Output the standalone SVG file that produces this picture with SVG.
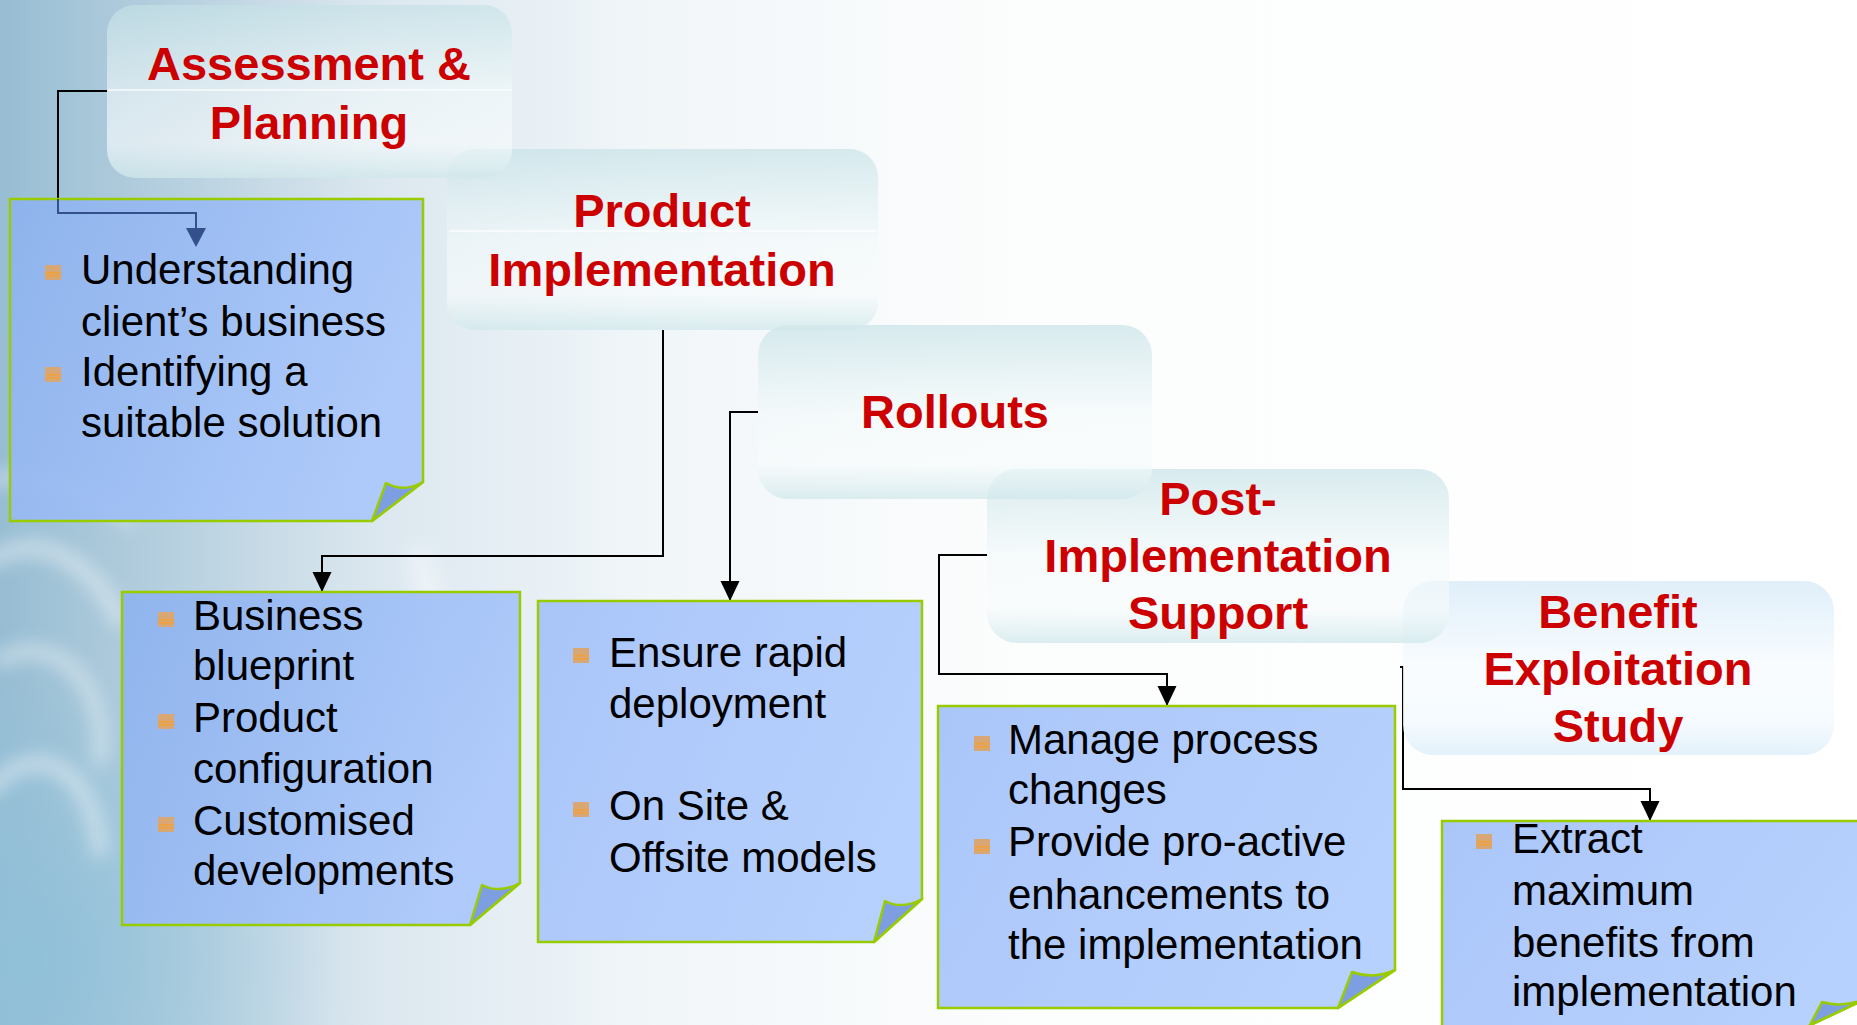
<svg xmlns="http://www.w3.org/2000/svg" width="1857" height="1025" viewBox="0 0 1857 1025">
<defs>
  <linearGradient id="bgH" x1="0" y1="0" x2="1857" y2="0" gradientUnits="userSpaceOnUse">
    <stop offset="0" stop-color="#97bdd3"/>
    <stop offset="0.08" stop-color="#b2cddd"/>
    <stop offset="0.2" stop-color="#dbe7ef"/>
    <stop offset="0.35" stop-color="#f1f6f9"/>
    <stop offset="0.55" stop-color="#fcfdfd"/>
    <stop offset="1" stop-color="#ffffff"/>
  </linearGradient>
  <radialGradient id="bgR" cx="40" cy="960" r="300" gradientUnits="userSpaceOnUse">
    <stop offset="0" stop-color="#8cc0da" stop-opacity="0.75"/>
    <stop offset="1" stop-color="#8cc0da" stop-opacity="0"/>
  </radialGradient>
  <filter id="blur" x="-30%" y="-30%" width="160%" height="160%">
    <feGaussianBlur stdDeviation="9"/>
  </filter>
  <linearGradient id="hdr" x1="0" y1="0" x2="0" y2="1">
    <stop offset="0" stop-color="#c4e1e6" stop-opacity="0.65"/>
    <stop offset="0.5" stop-color="#f2f9fa" stop-opacity="0.6"/>
    <stop offset="0.8" stop-color="#f7fbfc" stop-opacity="0.65"/>
    <stop offset="1" stop-color="#d0e8eb" stop-opacity="0.75"/>
  </linearGradient>
  <linearGradient id="hdrB" x1="0" y1="0" x2="0" y2="1">
    <stop offset="0" stop-color="#dcedf9" stop-opacity="0.9"/>
    <stop offset="0.5" stop-color="#f8fcff" stop-opacity="0.85"/>
    <stop offset="0.8" stop-color="#f4faff" stop-opacity="0.85"/>
    <stop offset="1" stop-color="#e0f0fa" stop-opacity="0.9"/>
  </linearGradient>
  <linearGradient id="note" x1="0" y1="0" x2="1" y2="0.4">
    <stop offset="0" stop-color="#8db2ee"/>
    <stop offset="1" stop-color="#aac7fb"/>
  </linearGradient>
  <linearGradient id="note2" x1="0" y1="0" x2="1" y2="0.4">
    <stop offset="0" stop-color="#a6c3f9"/>
    <stop offset="1" stop-color="#b3cefd"/>
  </linearGradient>
  <marker id="arr" markerWidth="20" markerHeight="20" viewBox="0 0 20 20" refX="20" refY="10" orient="auto" markerUnits="userSpaceOnUse">
    <path d="M0,0.5 L20,10 L0,19.5 Z" fill="#000"/>
  </marker>
  <g id="bul">
    <rect x="0" y="0" width="16" height="15" fill="#d8a774"/>
    <rect x="0" y="7" width="16" height="1.5" fill="#f2a03a"/>
    <rect x="0" y="10" width="16" height="1.5" fill="#f2a03a"/>
  </g>
</defs>
<style>
  .hd { font-family: "Liberation Sans", Arial, sans-serif; font-weight: bold; font-size: 47px; fill: #cc0000; text-anchor: middle; }
  .tx { font-family: "Liberation Sans", Arial, sans-serif; font-size: 42px; fill: #000000; }
  .hbox { fill: url(#hdr); }
  .hl { stroke: #ffffff; stroke-width: 1.5; stroke-opacity: 0.8; }
  .nbox { fill: url(#note); fill-opacity: 0.92; stroke: #99cc00; stroke-width: 2.5; }
  .nbox2 { fill: url(#note2); fill-opacity: 0.95; stroke: #99cc00; stroke-width: 2.5; }
  .flap { fill: #7d9fe2; stroke: #99cc00; stroke-width: 2.5; stroke-linejoin: round; }
  .cn { fill: none; stroke: #000000; stroke-width: 2; }
</style>

<!-- background -->
<rect x="0" y="0" width="1857" height="1025" fill="url(#bgH)"/>
<rect x="0" y="0" width="1857" height="1025" fill="url(#bgR)"/>
<g fill="none" stroke="#ffffff" stroke-linecap="round" filter="url(#blur)" opacity="0.45">
  <path d="M-10 560 C 40 530, 90 560, 120 620" stroke-width="16"/>
  <path d="M0 660 C 50 630, 110 680, 100 760" stroke-width="14"/>
  <path d="M-10 790 C 30 740, 90 760, 100 850" stroke-width="16"/>
  <path d="M-10 480 C 40 470, 90 490, 130 520" stroke-width="12"/>
  <path d="M420 560 C 450 660, 455 780, 440 900" stroke-width="24"/>
</g>

<!-- connectors -->
<g id="connectors">
  <path class="cn" d="M107,91 H58 V199"/>
  <path class="cn" d="M663,330 V556 H322 V592" marker-end="url(#arr)"/>
  <path class="cn" d="M758,412 H730 V601" marker-end="url(#arr)"/>
  <path class="cn" d="M987,555 H939 V674 H1167 V706" marker-end="url(#arr)"/>
  <path class="cn" d="M1400,667 H1403 V789 H1650 V821" marker-end="url(#arr)"/>
</g>

<!-- header boxes (later ones below earlier ones) -->
<g id="benefit">
  <rect x="1403" y="581" width="431" height="174" rx="30" fill="url(#hdrB)"/>
  <text class="hd" x="1618" y="628">Benefit</text>
  <text class="hd" x="1618" y="685">Exploitation</text>
  <text class="hd" x="1618" y="742">Study</text>
</g>
<g id="post">
  <rect x="987" y="469" width="462" height="174" rx="30" class="hbox"/>
  <text class="hd" x="1218" y="515">Post-</text>
  <text class="hd" x="1218" y="572">Implementation</text>
  <text class="hd" x="1218" y="629">Support</text>
</g>
<g id="rollouts">
  <rect x="758" y="325" width="394" height="174" rx="30" class="hbox"/>
  <text class="hd" x="955" y="428">Rollouts</text>
</g>
<g id="product">
  <rect x="447" y="149" width="431" height="181" rx="28" class="hbox"/>
  <line class="hl" x1="449" y1="231" x2="876" y2="231"/>
  <text class="hd" x="662" y="227">Product</text>
  <text class="hd" x="662" y="286">Implementation</text>
</g>
<g id="assessment">
  <rect x="107" y="5" width="405" height="173" rx="28" class="hbox"/>
  <line class="hl" x1="108" y1="90" x2="511" y2="90"/>
  <text class="hd" x="309" y="80">Assessment &amp;</text>
  <text class="hd" x="309" y="139">Planning</text>
</g>

<!-- note boxes -->
<g id="note1">
  <path class="nbox" d="M10,199 H423 V482 L372,521 H10 Z" fill-opacity="0.85"/>
  <path d="M58,199 V213 H196 V228" fill="none" stroke="#34508c" stroke-width="2"/>
  <path d="M186,228 L206,228 L196,247 Z" fill="#34508c"/>
  <path class="flap" d="M423,482 Q404,493 386,483 L372,521 Z"/>
  <use href="#bul" x="45" y="265"/>
  <use href="#bul" x="45" y="367"/>
  <text class="tx" x="81" y="284">Understanding</text>
  <text class="tx" x="81" y="336">client’s business</text>
  <text class="tx" x="81" y="386">Identifying a</text>
  <text class="tx" x="81" y="437">suitable solution</text>
</g>
<g id="note2">
  <path class="nbox" d="M122,592 H520 V883 L470,925 H122 Z"/>
  <path class="flap" d="M520,883 Q500,894 482,885 L470,925 Z"/>
  <use href="#bul" x="158" y="612"/>
  <use href="#bul" x="158" y="714"/>
  <use href="#bul" x="158" y="817"/>
  <text class="tx" x="193" y="630">Business</text>
  <text class="tx" x="193" y="680">blueprint</text>
  <text class="tx" x="193" y="732">Product</text>
  <text class="tx" x="193" y="783">configuration</text>
  <text class="tx" x="193" y="835">Customised</text>
  <text class="tx" x="193" y="885">developments</text>
</g>
<g id="note3">
  <path class="nbox2" d="M538,601 H922 V899 L874,942 H538 Z"/>
  <path class="flap" d="M922,899 Q902,910 885,901 L874,942 Z"/>
  <use href="#bul" x="573" y="648"/>
  <use href="#bul" x="573" y="802"/>
  <text class="tx" x="609" y="667">Ensure rapid</text>
  <text class="tx" x="609" y="718">deployment</text>
  <text class="tx" x="609" y="820">On Site &amp;</text>
  <text class="tx" x="609" y="872">Offsite models</text>
</g>
<g id="note4">
  <path class="nbox2" d="M938,706 H1395 V970 L1338,1008 H938 Z"/>
  <path class="flap" d="M1395,970 Q1374,980 1352,972 L1338,1008 Z"/>
  <use href="#bul" x="974" y="736"/>
  <use href="#bul" x="974" y="839"/>
  <text class="tx" x="1008" y="754">Manage process</text>
  <text class="tx" x="1008" y="804">changes</text>
  <text class="tx" x="1008" y="856">Provide pro-active</text>
  <text class="tx" x="1008" y="909">enhancements to</text>
  <text class="tx" x="1008" y="959">the implementation</text>
</g>
<g id="note5">
  <path class="nbox2" d="M1442,821 H1866 V999 L1781,1039 H1442 Z"/>
  <path class="flap" d="M1866,999 Q1842,1008 1822,1002 L1810,1025 Z"/>
  <use href="#bul" x="1476" y="834"/>
  <text class="tx" x="1512" y="853">Extract</text>
  <text class="tx" x="1512" y="905">maximum</text>
  <text class="tx" x="1512" y="957">benefits from</text>
  <text class="tx" x="1512" y="1006">implementation</text>
</g>
</svg>
